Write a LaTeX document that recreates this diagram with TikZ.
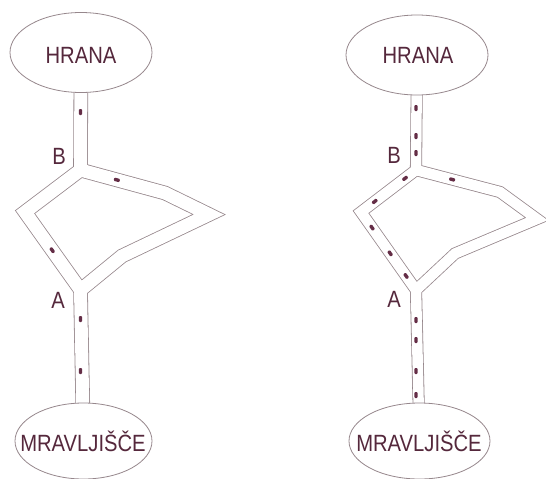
\documentclass[tikz,border=0pt]{standalone}
\usepackage{fontspec}
\usepackage{graphicx}
\setmainfont{Liberation Sans}
\usetikzlibrary{shapes.geometric,calc}
\pgfdeclarelayer{bg}
\pgfsetlayers{bg,main}
\definecolor{wall}{RGB}{150,135,140}
\definecolor{txt}{RGB}{85,40,60}
\definecolor{antc}{RGB}{100,45,70}
\newcommand{\nw}[1]{\scalebox{0.86}[1]{#1}}
\tikzset{
  place/.style={ellipse, draw=wall, line width=0.8pt, fill=white, inner sep=0pt},
  lbl/.style={text=txt, inner sep=0pt, anchor=base, font=\fontsize{23.5}{24}\selectfont},
  ant/.style={rectangle, rounded corners=1pt, fill=antc, inner sep=0pt, minimum width=6pt, minimum height=3.4pt},
  tubeoutA/.style={draw=wall, line width=14.6pt, line join=miter, miter limit=20},
  tubeinA/.style={draw=white, line width=13pt, line join=miter, miter limit=20},
  tubeoutB/.style={draw=wall, line width=12.1pt, line join=miter, miter limit=20},
  tubeinB/.style={draw=white, line width=10.5pt, line join=miter, miter limit=20},
}
\begin{document}
\begin{tikzpicture}[x=1pt,y=-1pt]
\useasboundingbox (0,0) rectangle (546,479);
% ---------- left figure ----------
\node[place, minimum width=142pt, minimum height=80pt] (H1) at (81,52.5) {};
\node[place, minimum width=137pt, minimum height=76pt] (M1) at (83.5,441) {};
\node[lbl] (tH1) at (81,63.3) {\nw{HRANA}};
\node[lbl] (tM1) at (83,451.7) {\nw{MRAVLJIŠČE}};
\coordinate (B1) at (80.5,170);
\coordinate (p1) at (165,193);
\coordinate (p2) at (209,214.5);
\coordinate (p3) at (122,256);
\coordinate (A1) at (80.5,290);
\coordinate (p4) at (25,212);
\node[lbl] (lB1) at (59,164) {\nw{B}};
\node[lbl] (lA1) at (58,308) {\nw{A}};
% ---------- right figure ----------
\node[place, minimum width=142pt, minimum height=80pt] (H2) at (417,55) {};
\node[place, minimum width=141pt, minimum height=76pt] (M2) at (419.5,441) {};
\node[lbl] (tH2) at (418,63) {\nw{HRANA}};
\node[lbl] (tM2) at (419,451.7) {\nw{MRAVLJIŠČE}};
\coordinate (B2) at (416,170);
\coordinate (q1) at (500,192);
\coordinate (q2) at (537,219);
\coordinate (q3) at (455,253.5);
\coordinate (A2) at (416,290);
\coordinate (q4) at (361,212);
\node[lbl] (lB2) at (394,163.5) {\nw{B}};
\node[lbl] (lA2) at (394,307) {\nw{A}};
% ---------- tubes ----------
\begin{pgfonlayer}{bg}
  \draw[tubeoutA] (H1.center) -- (B1) (B1) -- (p1) -- (p2) -- (p3) -- (A1) -- (p4) -- cycle (A1) -- (M1.center);
  \draw[tubeinA] (H1.center) -- (B1) (B1) -- (p1) -- (p2) -- (p3) -- (A1) -- (p4) -- cycle (A1) -- (M1.center);
  \draw[tubeoutB] (H2.center) -- (B2) (B2) -- (q1) -- (q2) -- (q3) -- (A2) -- (q4) -- cycle (A2) -- (M2.center);
  \draw[tubeinB] (H2.center) -- (B2) (B2) -- (q1) -- (q2) -- (q3) -- (A2) -- (q4) -- cycle (A2) -- (M2.center);
\end{pgfonlayer}
% ---------- ants, left ----------
\node[ant, rotate=90] (a1) at (80.5,112) {};
\node[ant, rotate=-15.2] (a2) at ($(B1)!0.43!(p1)$) {};
\node[ant, rotate=-54.6] (a3) at ($(p4)!0.49!(A1)$) {};
\node[ant, rotate=90] (a4) at (80.5,319) {};
\node[ant, rotate=90] (a5) at (80.5,371) {};
% ---------- ants, right ----------
\node[ant, rotate=90] (b1) at (416,108) {};
\node[ant, rotate=90] (b2) at (416,136) {};
\node[ant, rotate=90] (b3) at (416,153) {};
\node[ant, rotate=-14.7] (b4) at ($(B2)!0.43!(q1)$) {};
\node[ant, rotate=37.4] (b5) at ($(B2)!0.2!(q4)$) {};
\node[ant, rotate=37.4] (b6) at ($(B2)!0.75!(q4)$) {};
\node[ant, rotate=-54.8] (b7) at ($(q4)!0.2!(A2)$) {};
\node[ant, rotate=-54.8] (b8) at ($(q4)!0.53!(A2)$) {};
\node[ant, rotate=-54.8] (b9) at ($(q4)!0.82!(A2)$) {};
\node[ant, rotate=90] (b10) at (416,320) {};
\node[ant, rotate=90] (b11) at (416,340) {};
\node[ant, rotate=90] (b12) at (416,371) {};
\node[ant, rotate=90] (b13) at (416,395) {};
\end{tikzpicture}
\end{document}
